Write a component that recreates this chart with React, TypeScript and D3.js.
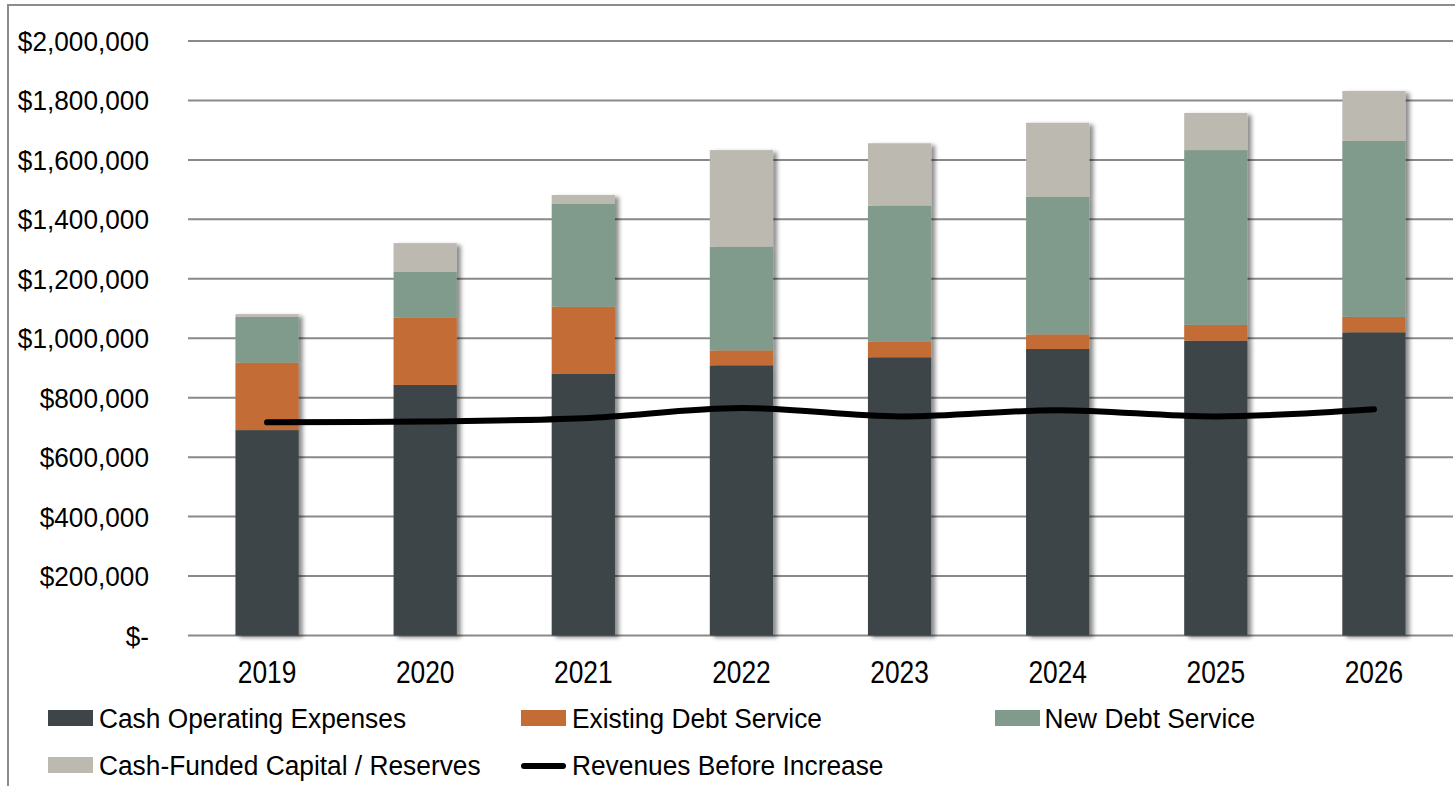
import React from "react";
import * as d3 from "d3";

const years = ["2019", "2020", "2021", "2022", "2023", "2024", "2025", "2026"];
const cashOperatingExpenses = [691000, 843000, 880000, 909000, 936000, 964000, 992000, 1020000];
const existingDebtService = [227000, 226000, 226000, 50000, 52000, 49000, 53000, 52000];
const newDebtService = [154000, 154000, 346000, 349000, 458000, 463000, 588000, 592000];
const cashFundedCapital = [9000, 97000, 30000, 325000, 210000, 249000, 125000, 168000];
const revenuesBeforeIncrease = [717000, 720000, 731000, 765000, 737000, 758000, 737000, 761000];
const yTicks = [0, 200000, 400000, 600000, 800000, 1000000, 1200000, 1400000, 1600000, 1800000, 2000000];

const seriesNames = [
  "Cash Operating Expenses",
  "Existing Debt Service",
  "New Debt Service",
  "Cash-Funded Capital / Reserves",
];
const seriesColors = ["#3d4548", "#c46c35", "#809b8b", "#bcb9b1"];
const lineName = "Revenues Before Increase";

const FONT = "'Liberation Sans', Arial, sans-serif";

function fmt(v: number) {
  if (v === 0) return "$-";
  return "$" + d3.format(",")(v);
}

export default function App() {
  const W = 1455;
  const H = 786;
  const x = d3
    .scaleBand<string>()
    .domain(years)
    .range([188, 1453])
    .paddingInner(0.6)
    .paddingOuter(0.3);
  const y = d3.scaleLinear().domain([0, 2000000]).range([635.5, 41]);

  const rows = years.map((yr, i) => ({
    year: yr,
    s0: cashOperatingExpenses[i],
    s1: existingDebtService[i],
    s2: newDebtService[i],
    s3: cashFundedCapital[i],
  }));
  const stack = d3.stack<any>().keys(["s0", "s1", "s2", "s3"]);
  const stacked = stack(rows);

  const line = d3
    .line<number>()
    .x((_, i) => (x(years[i]) as number) + x.bandwidth() / 2)
    .y((d) => y(d))
    .curve(d3.curveCatmullRom.alpha(0));

  const legendItems = [
    { label: seriesNames[0], sx: 48, tx: 99, row: 0, color: seriesColors[0], type: "rect" },
    { label: seriesNames[1], sx: 521, tx: 572, row: 0, color: seriesColors[1], type: "rect" },
    { label: seriesNames[2], sx: 995, tx: 1044.5, row: 0, color: seriesColors[2], type: "rect" },
    { label: seriesNames[3], sx: 48, tx: 99, row: 1, color: seriesColors[3], type: "rect" },
    { label: lineName, sx: 521, tx: 572, row: 1, color: "#000", type: "line" },
  ];
  const rowY = [718, 765];

  return (
    <svg
      width={W}
      height={H}
      style={{ position: "absolute", left: 0, top: 0, background: "#fff" }}
    >
      <defs>
        <filter id="shadow" x="-20%" y="-10%" width="150%" height="130%">
          <feDropShadow dx="4" dy="2" stdDeviation="2.2" floodColor="#000" floodOpacity="0.45" />
        </filter>
      </defs>
      <rect x={0} y={0} width={W} height={H} fill="#fff" />
      <rect x={8} y={5} width={W + 20} height={H + 20} fill="none" stroke="#8c8c8c" strokeWidth={2} />

      {/* gridlines */}
      {yTicks.map((t) => (
        <line key={t} x1={188} x2={1453} y1={y(t)} y2={y(t)} stroke="#898989" strokeWidth={2} />
      ))}

      {/* y labels */}
      {yTicks.map((t) => (
        <text
          key={"l" + t}
          transform={`translate(149, ${y(t) + 10}) scale(0.92, 1)`}
          textAnchor="end"
          fontFamily={FONT}
          fontSize={28.5}
          fill="#000"
        >
          {fmt(t)}
        </text>
      ))}

      {/* bars */}
      <g filter="url(#shadow)">
        {years.map((yr, i) => (
          <g key={yr}>
            {stacked.map((s, k) => (
              <rect
                key={k}
                x={x(yr)}
                width={x.bandwidth()}
                y={y(s[i][1])}
                height={y(s[i][0]) - y(s[i][1])}
                fill={seriesColors[k]}
              />
            ))}
          </g>
        ))}
      </g>

      {/* line */}
      <path
        d={line(revenuesBeforeIncrease) || ""}
        fill="none"
        stroke="#000"
        strokeWidth={6}
        strokeLinecap="round"
        strokeLinejoin="round"
      />

      {/* x labels */}
      {years.map((yr) => (
        <text
          key={"x" + yr}
          transform={`translate(${(x(yr) as number) + x.bandwidth() / 2}, 683) scale(0.85, 1)`}
          textAnchor="middle"
          fontFamily={FONT}
          fontSize={31}
          fill="#000"
        >
          {yr}
        </text>
      ))}

      {/* legend */}
      {legendItems.map((it) => (
        <g key={it.label}>
          {it.type === "rect" ? (
            <rect x={it.sx} y={rowY[it.row] - 8} width={45} height={16} fill={it.color} />
          ) : (
            <line
              x1={it.sx + 3}
              x2={it.sx + 42}
              y1={rowY[it.row] + 1}
              y2={rowY[it.row] + 1}
              stroke="#000"
              strokeWidth={6}
              strokeLinecap="round"
            />
          )}
          <text
            transform={`translate(${it.tx}, ${rowY[it.row] + 10}) scale(0.94, 1)`}
            fontFamily={FONT}
            fontSize={28}
            fill="#000"
          >
            {it.label}
          </text>
        </g>
      ))}
    </svg>
  );
}
